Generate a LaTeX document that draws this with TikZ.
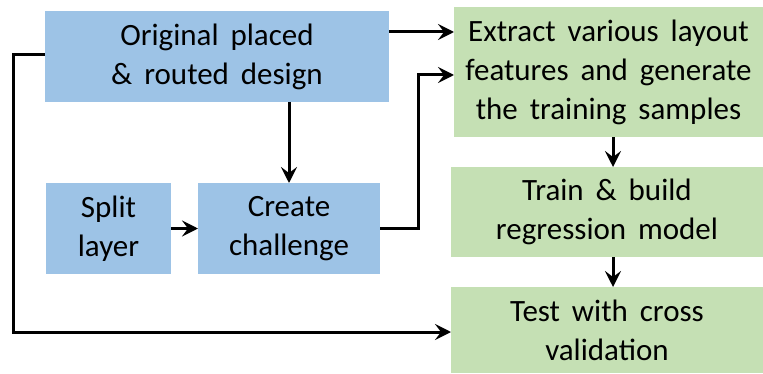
\documentclass[tikz,border=0pt]{standalone}
\usepackage{fontspec}
\setmainfont{Carlito}[WordSpace=1.7]
\usetikzlibrary{arrows.meta,calc}
\definecolor{bluebox}{HTML}{9DC3E6}
\definecolor{greenbox}{HTML}{C5E0B4}
\begin{document}
\begin{tikzpicture}[x=1pt,y=1pt,
  box/.style={inner sep=0pt,outer sep=0pt,align=center,font=\fontsize{31}{39}\selectfont,text=black},
  bbox/.style={box,fill=bluebox},
  gbox/.style={box,fill=greenbox},
  arr/.style={line width=3pt,-{Stealth[length=16pt,width=16pt,inset=6pt]}},
  ln/.style={line width=3pt}]
\useasboundingbox (0,0) rectangle (763,373);
% y_tikz = 373 - y_image
\node[bbox,minimum width=344,minimum height=91] (orig) at (217,316.5) {Original placed\\\& routed design};
\node[bbox,minimum width=125,minimum height=91] (split) at (108.5,144.5) {Split\\layer};
\node[bbox,minimum width=182,minimum height=91] (create) at (289,144.5) {Create\\challenge};
\node[gbox,minimum width=309,minimum height=130] (extract) at (608.5,301) {Extract various layout\\features and generate\\the training samples};
\node[gbox,minimum width=312,minimum height=90] (train) at (607,161) {Train \& build\\regression model};
\node[gbox,minimum width=312,minimum height=86] (test) at (607,43) {Test with cross\\validation};
\coordinate (o1) at ([yshift=24.5]orig.east);
\draw[arr] (o1) -- (o1 -| extract.west);
\draw[arr] (orig.south -| create.north) -- (create.north);
\draw[arr] (split.east) -- (create.west);
\draw[arr] (create.east) -- ++(38,0) |- ([yshift=-3]extract.west);
\draw[arr] ([xshift=4.5]extract.south) -- ([xshift=4.5]extract.south |- train.north);
\draw[arr] ([xshift=6]train.south) -- ([xshift=6]train.south |- test.north);
\draw[arr] ([yshift=1.5]orig.west) -- ++(-32,0) |- ([yshift=-2]test.west);
\end{tikzpicture}
\end{document}
